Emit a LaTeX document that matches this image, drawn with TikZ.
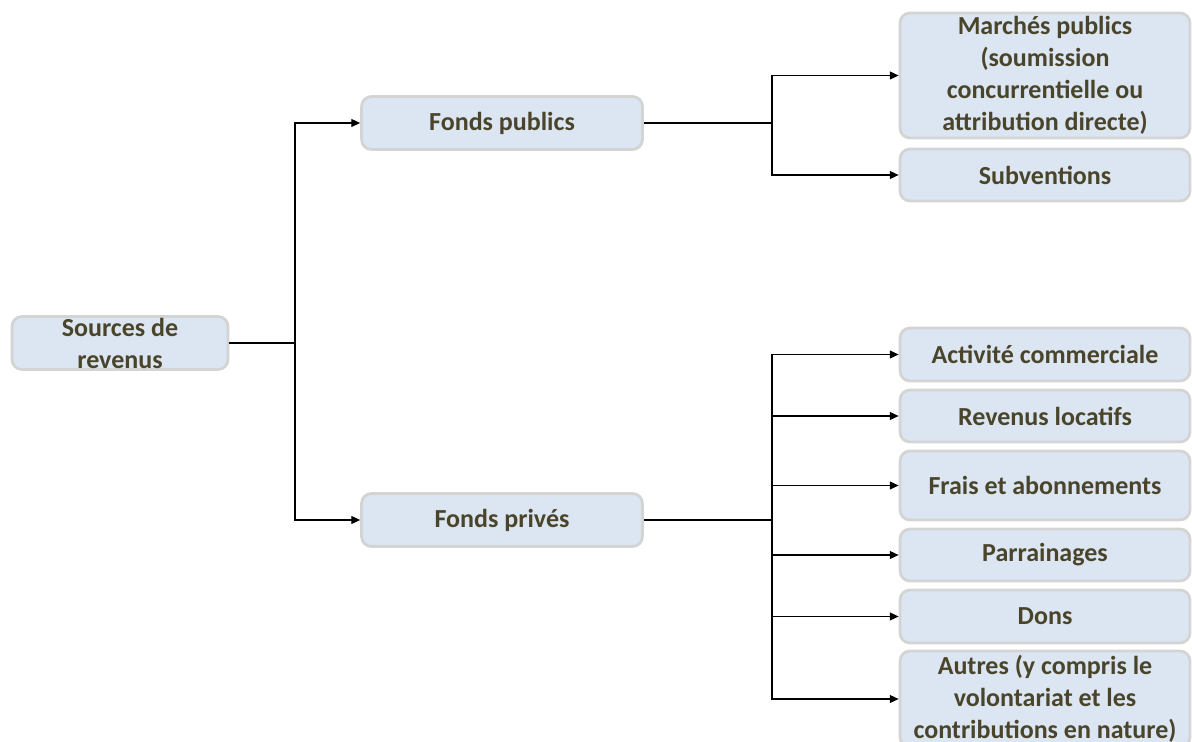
\documentclass[tikz,border=0pt]{standalone}
\usepackage{fontspec}
\setmainfont{Carlito}
\usepackage{xcolor}
\usepackage{tikz}
\usetikzlibrary{arrows.meta,positioning}
\definecolor{boxfill}{RGB}{220,230,242}
\definecolor{boxline}{RGB}{212,212,212}
\definecolor{txtbrown}{RGB}{74,69,42}

\begin{document}
\begin{tikzpicture}[x=0.02cm, y=-0.02cm,
      font=\fontsize{14.8}{18.2}\selectfont\bfseries,
      cat/.style={rectangle, rounded corners=0.2cm, draw=boxline,
                  fill=boxfill, line width=1.6pt, text=txtbrown,
                  align=center, inner sep=0pt, minimum height=1.06cm},
      leaf/.style={cat, minimum width=5.8cm},
      arr/.style={-{Triangle[length=5pt,width=4.5pt]}, line width=0.7pt},
      stem/.style={line width=0.9pt}]
    \clip (0,0) rectangle (1192,742);
    \node[cat, minimum width=4.32cm] (src) at (120,343) {Sources de\\revenus};
    \node[cat, minimum width=5.62cm] (pub) at (502,123) {Fonds publics};
    \node[cat, minimum width=5.62cm] (prv) at (502,520) {Fonds privés};
    \node[leaf, minimum height=2.5cm] (mp) at (1045,75.5)
      {Marchés publics\\(soumission\\concurrentielle ou\\attribution directe)};
    \node[leaf, minimum height=1.04cm] (sub) at (1045,175) {Subventions};
    \node[leaf] (act) at (1045,354.5) {Activité commerciale};
    \node[leaf, minimum height=1.04cm] (loc) at (1045,416) {Revenus locatifs};
    \node[leaf, minimum height=1.38cm] (fra) at (1045,485.5) {Frais et abonnements};
    \node[leaf, minimum height=1.04cm] (par) at (1045,555) {Parrainages};
    \node[leaf] (don) at (1045,616.5) {Dons};
    \node[leaf, minimum height=1.92cm] (aut) at (1045,699)
      {Autres (y compris le\\volontariat et les\\contributions en nature)};
    % junctions
    \coordinate (j0) at (295,343);
    \coordinate (j1) at (772,123);
    \coordinate (j2) at (772,520);
    \draw[stem] (src) -- (j0);
    \draw[arr] (j0) |- (pub);
    \draw[arr] (j0) |- (prv);
    \draw[stem] (pub) -- (j1);
    \draw[arr] (j1) |- (mp);
    \draw[arr] (j1) |- (sub);
    \draw[stem, line width=1.2pt] (prv) -- (j2);
    \foreach \n in {act,loc,fra,par,don,aut}
      \draw[arr] (j2) |- (\n);
  \end{tikzpicture}
\end{document}
